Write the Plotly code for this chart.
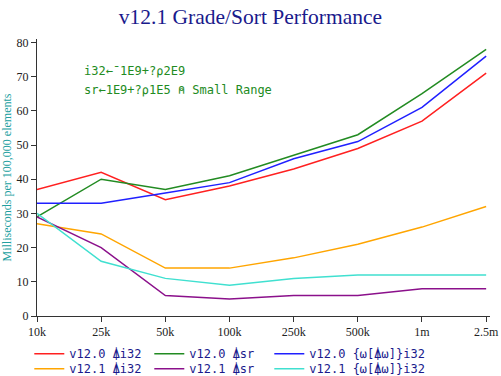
import plotly.graph_objects as go

categories = ["10k", "25k", "50k", "100k", "250k", "500k", "1m", "2.5m"]

v120_grade_i32 = [37, 42, 34, 38, 43, 49, 57, 71]
v120_grade_sr = [29, 40, 37, 41, 47, 53, 65, 78]
v120_sort_i32 = [33, 33, 36, 39, 46, 51, 61, 76]
v121_grade_i32 = [27, 24, 14, 14, 17, 21, 26, 32]
v121_grade_sr = [29, 20, 6, 5, 6, 6, 8, 8]
v121_sort_i32 = [30, 16, 11, 9, 11, 12, 12, 12]

series = [
    ("v12.0 ⍋i32", v120_grade_i32, "#ff2020", "legend"),
    ("v12.0 ⍋sr", v120_grade_sr, "#228b22", "legend"),
    ("v12.0 {⍵[⍋⍵]}i32", v120_sort_i32, "#2020ff", "legend"),
    ("v12.1 ⍋i32", v121_grade_i32, "#ffa500", "legend2"),
    ("v12.1 ⍋sr", v121_grade_sr, "#8b108b", "legend2"),
    ("v12.1 {⍵[⍋⍵]}i32", v121_sort_i32, "#40e0d0", "legend2"),
]

fig = go.Figure()
for name, vals, color, lg in series:
    fig.add_trace(go.Scatter(x=categories, y=vals, mode="lines", name=name,
                             line=dict(color=color, width=1.5), legend=lg))
# invisible spacer entries so the last legend column is not clipped
for lg in ("legend", "legend2"):
    fig.add_trace(go.Scatter(x=[None], y=[None], mode="lines", name=" ",
                             line=dict(color="rgba(0,0,0,0)"), legend=lg,
                             hoverinfo="skip"))

mono = "DejaVu Sans Mono"
serif = "Liberation Serif"
legend_common = dict(orientation="h", xanchor="left", x=-0.017, yanchor="middle",
                     font=dict(family=mono, size=12, color="#1a1a8c"),
                     bgcolor="rgba(0,0,0,0)", itemwidth=30, tracegroupgap=0,
                     entrywidth=75, entrywidthmode="pixels")
fig.update_layout(
    width=501, height=376,
    margin=dict(l=37, r=11, t=39, b=60, autoexpand=False),
    paper_bgcolor="white", plot_bgcolor="white",
    title=dict(text="v12.1 Grade/Sort Performance", x=0.5, xanchor="center",
               y=0.957, yanchor="middle", yref="container",
               font=dict(family=serif, size=21.5, color="#1a1a8c")),
    showlegend=True,
    legend=dict(**legend_common, y=-0.136),
    legend2=dict(**legend_common, y=-0.19),
    xaxis=dict(type="category", range=[0, 7.06], showline=True, linecolor="#333",
               linewidth=1, ticks="outside", ticklen=5, tickcolor="#333",
               showgrid=False, zeroline=False, automargin=False,
               tickfont=dict(family=serif, size=12, color="#222")),
    yaxis=dict(range=[0, 81], dtick=10, showline=True, linecolor="#333", linewidth=1,
               ticks="outside", ticklen=5, tickcolor="#333", showgrid=False,
               zeroline=False, automargin=False,
               tickfont=dict(family=serif, size=12, color="#222"),
               title=dict(text="Milliseconds per 100,000 elements", standoff=2,
                          font=dict(family=serif, size=12, color="#20a0a0"))),
    annotations=[
        dict(text="i32←¯1E9+?⍴2E9",
             xref="paper", yref="paper", x=0.1, y=0.8845, xanchor="left", yanchor="middle",
             align="left", showarrow=False,
             font=dict(family=mono, size=12, color="#228b22")),
        dict(text="sr←1E9+?⍴1E5 ⍝ Small Range",
             xref="paper", yref="paper", x=0.1, y=0.816, xanchor="left", yanchor="middle",
             align="left", showarrow=False,
             font=dict(family=mono, size=12, color="#228b22")),
    ],
)
fig.write_html("out.html", config={"displayModeBar": False},
               post_script="document.body.style.margin='0';")
